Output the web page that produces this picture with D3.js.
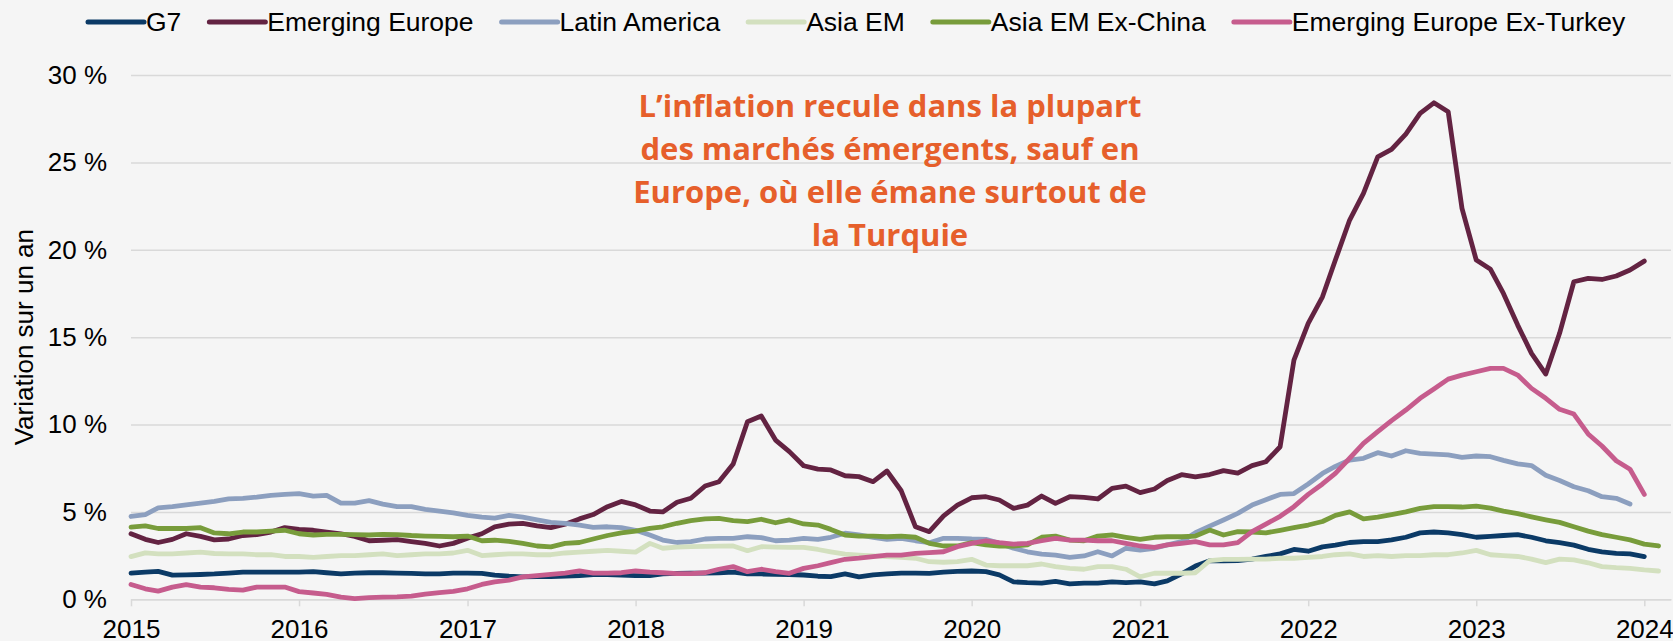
<!DOCTYPE html>
<html lang="fr">
  <head>
    <meta charset="utf-8">
    <title>Inflation</title>
    <script src="https://d3js.org/d3.v7.min.js" charset="utf-8"></script>
    <style>
      body { margin: 0; background: #f5f5f5; }
      svg { display: block; font-family: "Liberation Sans", Arial, sans-serif; }
    </style>
  </head>
  <body>
    <script type="text/javascript">
      // monthly values, first point = Jan 2015
      var g7 = [1.5,1.55,1.6,1.38,1.4,1.42,1.45,1.5,1.55,1.55,1.55,1.55,1.55,1.58,1.52,1.45,1.5,1.52,1.52,1.5,
        1.48,1.45,1.45,1.5,1.5,1.48,1.38,1.32,1.28,1.3,1.3,1.33,1.36,1.42,1.42,1.38,1.35,1.35,1.45,1.48,
        1.5,1.5,1.52,1.55,1.45,1.45,1.43,1.42,1.39,1.32,1.3,1.45,1.28,1.4,1.45,1.5,1.5,1.48,1.55,1.6,
        1.62,1.58,1.4,1.0,0.95,0.92,1.02,0.88,0.92,0.92,1.0,0.95,1.0,0.88,1.05,1.45,1.9,2.2,2.2,2.22,
        2.3,2.45,2.6,2.85,2.75,3.0,3.1,3.25,3.3,3.3,3.4,3.55,3.8,3.85,3.8,3.7,3.55,3.6,3.65,3.7,
        3.55,3.35,3.24,3.1,2.86,2.72,2.63,2.6,2.44];
      var emergingEurope = [3.75,3.43,3.25,3.43,3.75,3.6,3.4,3.45,3.65,3.7,3.85,4.1,4.0,3.95,3.85,3.75,3.6,3.35,3.38,3.42,
        3.3,3.2,3.05,3.2,3.5,3.75,4.15,4.3,4.35,4.2,4.1,4.3,4.6,4.85,5.3,5.6,5.4,5.05,5.0,5.55,
        5.78,6.48,6.73,7.74,10.16,10.49,9.11,8.45,7.64,7.45,7.4,7.07,7.02,6.73,7.34,6.21,4.15,3.87,4.77,5.39,
        5.81,5.87,5.68,5.2,5.39,5.91,5.49,5.87,5.83,5.74,6.35,6.48,6.1,6.31,6.8,7.13,7.0,7.14,7.36,7.22,
        7.65,7.87,8.73,13.69,15.79,17.31,19.41,21.7,23.23,25.32,25.74,26.62,27.8,28.41,27.9,22.37,19.41,18.88,17.5,15.69,
        14.07,12.89,15.22,18.17,18.36,18.3,18.5,18.84,19.35];
      var latinAmerica = [4.74,4.85,5.23,5.3,5.4,5.5,5.6,5.75,5.78,5.85,5.95,6.0,6.05,5.9,5.95,5.5,5.5,5.65,5.45,5.3,
        5.3,5.15,5.05,4.95,4.8,4.7,4.65,4.8,4.7,4.55,4.4,4.35,4.25,4.12,4.15,4.1,3.95,3.68,3.39,3.25,
        3.3,3.45,3.49,3.49,3.58,3.53,3.35,3.39,3.49,3.43,3.55,3.78,3.68,3.55,3.43,3.49,3.35,3.24,3.49,3.49,
        3.45,3.43,3.2,2.92,2.72,2.59,2.53,2.4,2.48,2.72,2.48,2.92,2.82,2.92,3.11,3.3,3.81,4.19,4.54,4.92,
        5.39,5.7,6.0,6.05,6.6,7.2,7.6,7.97,8.07,8.39,8.2,8.5,8.35,8.31,8.26,8.12,8.2,8.16,7.95,7.75,
        7.65,7.1,6.8,6.44,6.21,5.87,5.78,5.45];
      var asiaEM = [2.44,2.66,2.6,2.6,2.65,2.7,2.62,2.6,2.6,2.55,2.55,2.45,2.45,2.4,2.45,2.5,2.5,2.55,2.6,2.5,
        2.55,2.6,2.6,2.65,2.8,2.5,2.55,2.6,2.6,2.55,2.55,2.65,2.7,2.75,2.8,2.75,2.7,3.2,2.92,2.98,
        3.01,3.03,3.04,3.05,2.78,3.01,2.99,2.97,2.97,2.85,2.72,2.59,2.53,2.48,2.44,2.4,2.35,2.15,2.12,2.15,
        2.29,1.96,1.92,1.92,1.92,2.02,1.87,1.77,1.72,1.87,1.87,1.72,1.29,1.49,1.49,1.49,1.52,2.21,2.29,2.29,
        2.3,2.3,2.35,2.35,2.4,2.45,2.55,2.6,2.45,2.5,2.45,2.5,2.5,2.55,2.55,2.65,2.8,2.55,2.5,2.45,
        2.3,2.1,2.3,2.25,2.09,1.87,1.81,1.77,1.68,1.62];
      var asiaEMexChina = [4.13,4.2,4.05,4.05,4.05,4.1,3.8,3.75,3.85,3.85,3.9,3.95,3.75,3.68,3.72,3.72,3.7,3.68,3.72,3.7,
        3.65,3.62,3.6,3.58,3.62,3.35,3.38,3.32,3.2,3.05,3.0,3.2,3.25,3.45,3.65,3.8,3.9,4.06,4.15,4.35,
        4.5,4.6,4.63,4.5,4.44,4.58,4.38,4.54,4.31,4.25,4.0,3.68,3.62,3.62,3.58,3.62,3.55,3.2,3.05,3.05,
        3.24,3.11,3.05,3.05,3.11,3.55,3.62,3.39,3.35,3.62,3.68,3.55,3.43,3.55,3.58,3.58,3.62,3.96,3.68,3.87,
        3.85,3.8,3.95,4.1,4.25,4.45,4.8,5.0,4.6,4.7,4.85,5.0,5.2,5.3,5.3,5.28,5.33,5.22,5.05,4.9,
        4.72,4.55,4.4,4.15,3.9,3.7,3.55,3.4,3.16,3.05];
      var emergingEuropeExTurkey = [0.85,0.6,0.47,0.7,0.84,0.7,0.66,0.57,0.52,0.7,0.7,0.7,0.44,0.36,0.28,0.12,0.04,0.1,0.12,0.14,
        0.18,0.3,0.38,0.45,0.6,0.85,1.0,1.1,1.28,1.35,1.42,1.5,1.62,1.5,1.5,1.52,1.62,1.55,1.52,1.47,
        1.47,1.52,1.72,1.87,1.58,1.72,1.58,1.49,1.77,1.92,2.1,2.29,2.35,2.44,2.53,2.53,2.63,2.67,2.72,3.01,
        3.2,3.35,3.24,3.16,3.2,3.35,3.49,3.39,3.39,3.35,3.35,3.2,3.05,2.97,3.11,3.2,3.3,3.11,3.11,3.24,
        3.87,4.3,4.75,5.3,6.0,6.6,7.21,8.07,8.92,9.59,10.22,10.83,11.5,12.03,12.6,12.83,13.02,13.21,13.21,12.83,
        12.07,11.5,10.87,10.6,9.46,8.77,7.93,7.44,6.0];

      var seriesNames = ["G7", "Emerging Europe", "Latin America", "Asia EM", "Asia EM Ex-China", "Emerging Europe Ex-Turkey"];
      var seriesValues = [g7, emergingEurope, latinAmerica, asiaEM, asiaEMexChina, emergingEuropeExTurkey];
      var seriesColors = ["#0b3a66", "#632342", "#8c9fbf", "#d3e0bf", "#789c3b", "#c65c8d"];

      var yTicks = [0, 5, 10, 15, 20, 25, 30];
      var xTicks = [2015, 2016, 2017, 2018, 2019, 2020, 2021, 2022, 2023, 2024];
      var noteLines = ["L\u2019inflation recule dans la plupart",
                       "des marchés émergents, sauf en",
                       "Europe, où elle émane surtout de",
                       "la Turquie"];

      var w = 1673, h = 641;
      var plotLeft = 131, plotRight = 1671, plotTop = 75, plotBottom = 599.3;

      var x = d3.scaleTime()
                .domain([new Date(2015, 0, 1), new Date(2024, 1, 28)])
                .range([plotLeft, plotRight]);
      var y = d3.scaleLinear().domain([0, 30]).range([plotBottom, plotTop]);

      var svg = d3.select("body").append("svg")
                  .attr("width", w)
                  .attr("height", h);

      svg.append("rect").attr("width", w).attr("height", h).attr("fill", "#f5f5f5");

      // y grid + labels
      var yAxis = svg.append("g")
         .attr("transform", "translate(" + plotLeft + ",0)")
         .call(d3.axisLeft(y).tickValues(yTicks).tickSize(-(plotRight - plotLeft)).tickPadding(24)
                 .tickFormat(function(d){ return d + " %"; }));
      yAxis.select(".domain").remove();
      yAxis.selectAll("line").attr("stroke", "#d9d9d9").attr("stroke-width", 1.5);
      yAxis.selectAll("text").attr("font-size", 26).attr("fill", "#000")
           .attr("font-family", "Liberation Sans, Arial, sans-serif");

      // x axis
      var xAxis = svg.append("g")
         .attr("transform", "translate(0," + plotBottom + ")")
         .call(d3.axisBottom(x)
                 .tickValues(xTicks.map(function(yr){ return new Date(yr, 0, 1); }))
                 .tickSize(7).tickSizeOuter(0).tickPadding(13)
                 .tickFormat(d3.timeFormat("%Y")));
      xAxis.select(".domain").attr("stroke", "#d9d9d9").attr("stroke-width", 1.5);
      xAxis.selectAll("line").attr("stroke", "#d9d9d9").attr("stroke-width", 1.5);
      xAxis.selectAll("text").attr("font-size", 26).attr("fill", "#000")
           .attr("font-family", "Liberation Sans, Arial, sans-serif");

      // axis title
      svg.append("text")
         .attr("transform", "translate(24," + (plotTop + plotBottom) / 2 + ") rotate(-90)")
         .attr("text-anchor", "middle")
         .attr("dominant-baseline", "central")
         .attr("font-size", 26)
         .text("Variation sur un an");

      // lines
      var line = d3.line()
                   .x(function(d, i){ return x(new Date(2015, i, 1)); })
                   .y(function(d){ return y(d); });

      svg.selectAll("path.series")
         .data(seriesValues)
         .enter()
         .append("path")
           .attr("class", "series")
           .attr("d", line)
           .attr("fill", "none")
           .attr("stroke", function(d, i){ return seriesColors[i]; })
           .attr("stroke-width", 4.8)
           .attr("stroke-linejoin", "round")
           .attr("stroke-linecap", "round");

      // legend
      var lx = 88;
      seriesNames.forEach(function(name, i){
        var g = svg.append("g");
        g.append("line")
         .attr("x1", lx).attr("x2", lx + 56)
         .attr("y1", 22).attr("y2", 22)
         .attr("stroke", seriesColors[i])
         .attr("stroke-width", 5)
         .attr("stroke-linecap", "round");
        var t = g.append("text")
         .attr("x", lx + 58)
         .attr("y", 22)
         .attr("dominant-baseline", "central")
         .attr("font-size", 26.5)
         .text(name);
        lx = lx + 58 + t.node().getComputedTextLength() + 28;
      });

      // annotation
      svg.selectAll("text.note")
         .data(noteLines)
         .enter()
         .append("text")
           .attr("class", "note")
           .attr("x", 890)
           .attr("y", function(d, i){ return 117 + i * 43; })
           .attr("text-anchor", "middle")
           .attr("font-family", "Open Sans, sans-serif")
           .attr("font-weight", "bold")
           .attr("font-size", 31)
           .attr("fill", "#e65f2b")
           .text(function(d){ return d; });
    </script>
</body>
</html>
